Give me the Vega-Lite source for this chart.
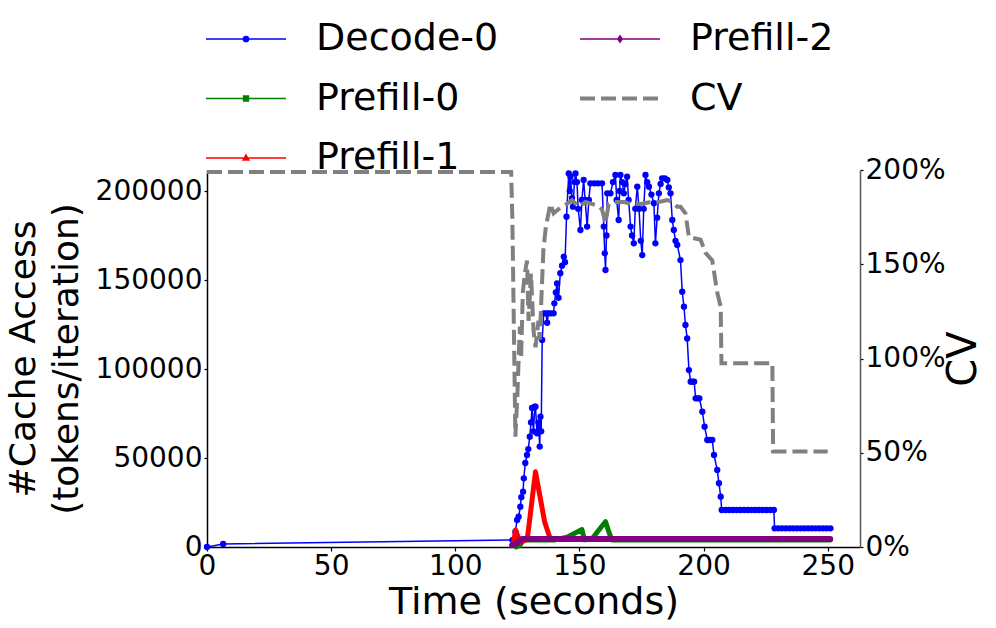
{
  "$schema": "https://vega.github.io/schema/vega-lite/v6.json",
  "width": 653,
  "height": 377,
  "autosize": {"type": "none"},
  "padding": {"left": 207, "top": 170, "right": 136, "bottom": 81},
  "config": {
    "font": "DejaVu Sans",
    "view": {"stroke": null},
    "axis": {"grid": false, "domainColor": "black", "tickColor": "black", "labelColor": "black", "titleColor": "black", "labelFont": "DejaVu Sans", "titleFont": "DejaVu Sans", "labelFontSize": 28, "titleFontWeight": "normal", "domainWidth": 1.5, "tickWidth": 1.2}
  },
  "datasets": {
    "main": [
      {"series": "Decode-0", "t": 0, "v": 0},
      {"series": "Decode-0", "t": 6.5, "v": 1700},
      {"series": "Decode-0", "t": 123, "v": 3900},
      {"series": "Decode-0", "t": 124.2, "v": 8600},
      {"series": "Decode-0", "t": 124.9, "v": 15200},
      {"series": "Decode-0", "t": 125.5, "v": 17000},
      {"series": "Decode-0", "t": 126.2, "v": 22600},
      {"series": "Decode-0", "t": 126.6, "v": 28000},
      {"series": "Decode-0", "t": 127.3, "v": 31100},
      {"series": "Decode-0", "t": 127.6, "v": 38600},
      {"series": "Decode-0", "t": 128.2, "v": 47200},
      {"series": "Decode-0", "t": 128.9, "v": 51700},
      {"series": "Decode-0", "t": 129.4, "v": 55000},
      {"series": "Decode-0", "t": 130, "v": 62000},
      {"series": "Decode-0", "t": 130.5, "v": 70000},
      {"series": "Decode-0", "t": 130.9, "v": 78100},
      {"series": "Decode-0", "t": 131.5, "v": 65000},
      {"series": "Decode-0", "t": 132, "v": 78800},
      {"series": "Decode-0", "t": 132.3, "v": 78800},
      {"series": "Decode-0", "t": 132.9, "v": 63900},
      {"series": "Decode-0", "t": 133.5, "v": 70000},
      {"series": "Decode-0", "t": 134, "v": 56400},
      {"series": "Decode-0", "t": 134.3, "v": 73200},
      {"series": "Decode-0", "t": 134.6, "v": 65000},
      {"series": "Decode-0", "t": 135, "v": 116300},
      {"series": "Decode-0", "t": 135.6, "v": 131300},
      {"series": "Decode-0", "t": 136.5, "v": 131300},
      {"series": "Decode-0", "t": 137, "v": 126000},
      {"series": "Decode-0", "t": 137.5, "v": 131300},
      {"series": "Decode-0", "t": 138.5, "v": 131300},
      {"series": "Decode-0", "t": 139.6, "v": 131300},
      {"series": "Decode-0", "t": 139.9, "v": 136900},
      {"series": "Decode-0", "t": 140.5, "v": 143000},
      {"series": "Decode-0", "t": 141, "v": 148100},
      {"series": "Decode-0", "t": 141.6, "v": 140000},
      {"series": "Decode-0", "t": 142.3, "v": 153800},
      {"series": "Decode-0", "t": 143, "v": 158000},
      {"series": "Decode-0", "t": 143.7, "v": 163100},
      {"series": "Decode-0", "t": 144.2, "v": 160000},
      {"series": "Decode-0", "t": 144.8, "v": 185600},
      {"series": "Decode-0", "t": 145.7, "v": 209900},
      {"series": "Decode-0", "t": 146.1, "v": 200000},
      {"series": "Decode-0", "t": 146.4, "v": 208000},
      {"series": "Decode-0", "t": 147, "v": 196000},
      {"series": "Decode-0", "t": 147.4, "v": 191200},
      {"series": "Decode-0", "t": 148, "v": 205000},
      {"series": "Decode-0", "t": 148.4, "v": 209900},
      {"series": "Decode-0", "t": 149, "v": 205000},
      {"series": "Decode-0", "t": 149.5, "v": 190000},
      {"series": "Decode-0", "t": 150.4, "v": 178100},
      {"series": "Decode-0", "t": 151, "v": 195000},
      {"series": "Decode-0", "t": 151.7, "v": 206200},
      {"series": "Decode-0", "t": 152.3, "v": 195000},
      {"series": "Decode-0", "t": 153.1, "v": 180000},
      {"series": "Decode-0", "t": 153.8, "v": 195000},
      {"series": "Decode-0", "t": 154.4, "v": 204300},
      {"series": "Decode-0", "t": 156, "v": 204300},
      {"series": "Decode-0", "t": 157.5, "v": 204300},
      {"series": "Decode-0", "t": 159.1, "v": 204300},
      {"series": "Decode-0", "t": 159.8, "v": 180000},
      {"series": "Decode-0", "t": 160.2, "v": 165000},
      {"series": "Decode-0", "t": 160.5, "v": 155600},
      {"series": "Decode-0", "t": 160.9, "v": 175000},
      {"series": "Decode-0", "t": 161.2, "v": 198700},
      {"series": "Decode-0", "t": 162.5, "v": 198700},
      {"series": "Decode-0", "t": 163.5, "v": 205000},
      {"series": "Decode-0", "t": 164.5, "v": 209000},
      {"series": "Decode-0", "t": 165, "v": 195000},
      {"series": "Decode-0", "t": 165.8, "v": 183700},
      {"series": "Decode-0", "t": 166.2, "v": 200000},
      {"series": "Decode-0", "t": 166.5, "v": 209000},
      {"series": "Decode-0", "t": 167.2, "v": 205000},
      {"series": "Decode-0", "t": 167.9, "v": 198700},
      {"series": "Decode-0", "t": 168.5, "v": 204000},
      {"series": "Decode-0", "t": 169.2, "v": 208000},
      {"series": "Decode-0", "t": 169.8, "v": 195000},
      {"series": "Decode-0", "t": 170.6, "v": 180000},
      {"series": "Decode-0", "t": 171.2, "v": 175000},
      {"series": "Decode-0", "t": 171.9, "v": 170600},
      {"series": "Decode-0", "t": 172.5, "v": 190000},
      {"series": "Decode-0", "t": 173.3, "v": 202400},
      {"series": "Decode-0", "t": 174, "v": 190000},
      {"series": "Decode-0", "t": 174.7, "v": 172000},
      {"series": "Decode-0", "t": 175.3, "v": 164000},
      {"series": "Decode-0", "t": 175.9, "v": 190000},
      {"series": "Decode-0", "t": 176.6, "v": 209000},
      {"series": "Decode-0", "t": 177.3, "v": 205000},
      {"series": "Decode-0", "t": 178, "v": 202400},
      {"series": "Decode-0", "t": 179, "v": 198000},
      {"series": "Decode-0", "t": 180, "v": 193100},
      {"series": "Decode-0", "t": 180.6, "v": 170600},
      {"series": "Decode-0", "t": 181.3, "v": 185000},
      {"series": "Decode-0", "t": 182, "v": 198700},
      {"series": "Decode-0", "t": 182.7, "v": 204000},
      {"series": "Decode-0", "t": 183.3, "v": 207100},
      {"series": "Decode-0", "t": 184.4, "v": 207100},
      {"series": "Decode-0", "t": 185.4, "v": 206200},
      {"series": "Decode-0", "t": 186, "v": 202000},
      {"series": "Decode-0", "t": 186.7, "v": 198700},
      {"series": "Decode-0", "t": 187.4, "v": 183700},
      {"series": "Decode-0", "t": 188, "v": 178100},
      {"series": "Decode-0", "t": 188.7, "v": 172000},
      {"series": "Decode-0", "t": 189.4, "v": 169700},
      {"series": "Decode-0", "t": 190.7, "v": 161200},
      {"series": "Decode-0", "t": 191.4, "v": 143400},
      {"series": "Decode-0", "t": 192.1, "v": 135000},
      {"series": "Decode-0", "t": 192.7, "v": 124700},
      {"series": "Decode-0", "t": 193.4, "v": 117200},
      {"series": "Decode-0", "t": 194.1, "v": 99400},
      {"series": "Decode-0", "t": 194.8, "v": 92900},
      {"series": "Decode-0", "t": 195.6, "v": 92900},
      {"series": "Decode-0", "t": 196.2, "v": 92900},
      {"series": "Decode-0", "t": 196.8, "v": 83500},
      {"series": "Decode-0", "t": 197.6, "v": 83500},
      {"series": "Decode-0", "t": 198.3, "v": 83500},
      {"series": "Decode-0", "t": 199.5, "v": 76000},
      {"series": "Decode-0", "t": 200.4, "v": 67600},
      {"series": "Decode-0", "t": 201.5, "v": 60100},
      {"series": "Decode-0", "t": 202.5, "v": 60100},
      {"series": "Decode-0", "t": 203.5, "v": 60100},
      {"series": "Decode-0", "t": 204.2, "v": 51700},
      {"series": "Decode-0", "t": 205.5, "v": 43300},
      {"series": "Decode-0", "t": 206.2, "v": 35800},
      {"series": "Decode-0", "t": 206.9, "v": 28300},
      {"series": "Decode-0", "t": 207.3, "v": 20800},
      {"series": "Decode-0", "t": 208.8, "v": 20800},
      {"series": "Decode-0", "t": 210.3, "v": 20800},
      {"series": "Decode-0", "t": 211.8, "v": 20800},
      {"series": "Decode-0", "t": 213.3, "v": 20800},
      {"series": "Decode-0", "t": 214.8, "v": 20800},
      {"series": "Decode-0", "t": 216.3, "v": 20800},
      {"series": "Decode-0", "t": 217.8, "v": 20800},
      {"series": "Decode-0", "t": 219.3, "v": 20800},
      {"series": "Decode-0", "t": 220.8, "v": 20800},
      {"series": "Decode-0", "t": 222.3, "v": 20800},
      {"series": "Decode-0", "t": 223.8, "v": 20800},
      {"series": "Decode-0", "t": 225.3, "v": 20800},
      {"series": "Decode-0", "t": 226.8, "v": 20800},
      {"series": "Decode-0", "t": 228.3, "v": 20800},
      {"series": "Decode-0", "t": 228.6, "v": 10500},
      {"series": "Decode-0", "t": 230.1, "v": 10500},
      {"series": "Decode-0", "t": 231.6, "v": 10500},
      {"series": "Decode-0", "t": 233.1, "v": 10500},
      {"series": "Decode-0", "t": 234.6, "v": 10500},
      {"series": "Decode-0", "t": 236.1, "v": 10500},
      {"series": "Decode-0", "t": 237.6, "v": 10500},
      {"series": "Decode-0", "t": 239.1, "v": 10500},
      {"series": "Decode-0", "t": 240.6, "v": 10500},
      {"series": "Decode-0", "t": 242.1, "v": 10500},
      {"series": "Decode-0", "t": 243.6, "v": 10500},
      {"series": "Decode-0", "t": 245.1, "v": 10500},
      {"series": "Decode-0", "t": 246.6, "v": 10500},
      {"series": "Decode-0", "t": 248.1, "v": 10500},
      {"series": "Decode-0", "t": 249.6, "v": 10500},
      {"series": "Decode-0", "t": 251.1, "v": 10500},

      {"series": "Prefill-0", "t": 124.5, "v": 0},
      {"series": "Prefill-0", "t": 126, "v": 1000},
      {"series": "Prefill-0", "t": 127.5, "v": 4000},
      {"series": "Prefill-0", "t": 140, "v": 4000},
      {"series": "Prefill-0", "t": 145, "v": 5500},
      {"series": "Prefill-0", "t": 151, "v": 9800},
      {"series": "Prefill-0", "t": 152, "v": 4000},
      {"series": "Prefill-0", "t": 155, "v": 4500},
      {"series": "Prefill-0", "t": 159.1, "v": 11800},
      {"series": "Prefill-0", "t": 160.5, "v": 14200},
      {"series": "Prefill-0", "t": 161.5, "v": 10000},
      {"series": "Prefill-0", "t": 163, "v": 4000},
      {"series": "Prefill-0", "t": 251, "v": 4000},

      {"series": "Prefill-1", "t": 123.3, "v": 1000},
      {"series": "Prefill-1", "t": 124.3, "v": 9500},
      {"series": "Prefill-1", "t": 125.2, "v": 6000},
      {"series": "Prefill-1", "t": 126, "v": 2500},
      {"series": "Prefill-1", "t": 129, "v": 4400},
      {"series": "Prefill-1", "t": 132.3, "v": 42300},
      {"series": "Prefill-1", "t": 136, "v": 14000},
      {"series": "Prefill-1", "t": 138.3, "v": 4400},
      {"series": "Prefill-1", "t": 251, "v": 4400},

      {"series": "Prefill-2", "t": 122.9, "v": 1000},
      {"series": "Prefill-2", "t": 124.5, "v": 2000},
      {"series": "Prefill-2", "t": 126.9, "v": 4500},
      {"series": "Prefill-2", "t": 251, "v": 4500},

      {"series": "CV", "t": 0, "v": 1.99},
      {"series": "CV", "t": 122.5, "v": 1.99},
      {"series": "CV", "t": 123, "v": 1.73},
      {"series": "CV", "t": 124.2, "v": 0.585},
      {"series": "CV", "t": 125, "v": 0.8},
      {"series": "CV", "t": 125.5, "v": 0.99},
      {"series": "CV", "t": 126, "v": 1.17},
      {"series": "CV", "t": 126.5, "v": 1.0},
      {"series": "CV", "t": 127.2, "v": 1.35},
      {"series": "CV", "t": 128, "v": 1.45},
      {"series": "CV", "t": 128.9, "v": 1.52},
      {"series": "CV", "t": 129.5, "v": 1.2},
      {"series": "CV", "t": 130.5, "v": 1.45},
      {"series": "CV", "t": 131.5, "v": 1.15},
      {"series": "CV", "t": 132.3, "v": 1.06},
      {"series": "CV", "t": 133.5, "v": 1.2},
      {"series": "CV", "t": 134, "v": 1.1},
      {"series": "CV", "t": 135.5, "v": 1.58},
      {"series": "CV", "t": 136.5, "v": 1.7},
      {"series": "CV", "t": 138.3, "v": 1.82},
      {"series": "CV", "t": 139.6, "v": 1.77},
      {"series": "CV", "t": 142.3, "v": 1.8},
      {"series": "CV", "t": 145, "v": 1.82},
      {"series": "CV", "t": 147, "v": 1.84},
      {"series": "CV", "t": 149.7, "v": 1.805},
      {"series": "CV", "t": 152.4, "v": 1.83},
      {"series": "CV", "t": 155, "v": 1.82},
      {"series": "CV", "t": 157.5, "v": 1.81},
      {"series": "CV", "t": 159.1, "v": 1.79},
      {"series": "CV", "t": 160.5, "v": 1.72},
      {"series": "CV", "t": 161.8, "v": 1.82},
      {"series": "CV", "t": 164, "v": 1.83},
      {"series": "CV", "t": 167.9, "v": 1.83},
      {"series": "CV", "t": 171, "v": 1.82},
      {"series": "CV", "t": 174.6, "v": 1.82},
      {"series": "CV", "t": 178.6, "v": 1.83},
      {"series": "CV", "t": 182, "v": 1.83},
      {"series": "CV", "t": 185.4, "v": 1.84},
      {"series": "CV", "t": 187.5, "v": 1.83},
      {"series": "CV", "t": 189.4, "v": 1.805},
      {"series": "CV", "t": 190.7, "v": 1.805},
      {"series": "CV", "t": 192.7, "v": 1.77},
      {"series": "CV", "t": 194.1, "v": 1.645},
      {"series": "CV", "t": 198.8, "v": 1.63},
      {"series": "CV", "t": 200.8, "v": 1.56},
      {"series": "CV", "t": 203.5, "v": 1.52},
      {"series": "CV", "t": 205.5, "v": 1.35},
      {"series": "CV", "t": 206.9, "v": 1.275},
      {"series": "CV", "t": 207.2, "v": 0.975},
      {"series": "CV", "t": 227.7, "v": 0.975},
      {"series": "CV", "t": 228, "v": 0.506},
      {"series": "CV", "t": 250, "v": 0.506}
    ]
  },
  "data": {"name": "main"},
  "encoding": {
    "x": {
      "field": "t", "type": "quantitative",
      "scale": {"domain": [0, 263], "nice": false, "zero": false},
      "axis": {"values": [0, 50, 100, 150, 200, 250], "title": "Time (seconds)", "titleFontSize": 38, "tickSize": 4, "labelPadding": 1, "titlePadding": 3, "labelFlush": false}
    },
    "color": {
      "field": "series", "type": "nominal",
      "scale": {"domain": ["Decode-0", "Prefill-0", "Prefill-1", "Prefill-2", "CV"], "range": ["#0000ff", "#008000", "#ff0000", "#800080", "#808080"]},
      "legend": {
        "orient": "none", "legendX": 20, "legendY": -150, "columns": 2, "title": null, "padding": 0,
        "symbolSize": 1600, "symbolStrokeWidth": 1.5, "labelOffset": 51, "columnPadding": 73, "rowPadding": 21.5,
        "labelFont": "DejaVu Sans", "labelFontSize": 38, "labelLimit": 500, "labelColor": "black",
        "encode": {
          "symbols": {
            "update": {
              "shape": {"signal": "datum.value === 'CV' ? 'M-2,0H2' : datum.value === 'Decode-0' ? 'M-2,0H2M0.13,0A0.13,0.13,0,1,1,-0.13,0A0.13,0.13,0,1,1,0.13,0Z' : datum.value === 'Prefill-0' ? 'M-2,0H2M-0.12,-0.12H0.12V0.12H-0.12Z' : datum.value === 'Prefill-1' ? 'M-2,0H2M0,-0.15L0.14,0.1H-0.14Z' : 'M-2,0H2M0,-0.16L0.11,0L0,0.16L-0.11,0Z'"},
              "strokeDash": {"signal": "datum.value === 'CV' ? [15, 6] : []"},
              "strokeWidth": {"signal": "datum.value === 'CV' ? 4 : 1.5"},
              "fill": {"signal": "scale('color', datum.value)"},
              "stroke": {"signal": "scale('color', datum.value)"},
              "opacity": {"value": 1}
            }
          }
        }
      }
    }
  },
  "layer": [
    {
      "encoding": {
        "y": {
          "field": "v", "type": "quantitative",
          "scale": {"domain": [0, 211800], "nice": false},
          "axis": {"values": [0, 50000, 100000, 150000, 200000], "format": "d", "title": ["#Cache Access", "(tokens/iteration)"], "titleFontSize": 36, "titleLineHeight": 43, "tickSize": 3, "labelPadding": 2, "titlePadding": 10}
        }
      },
      "layer": [
        {"transform": [{"filter": "datum.series === 'Decode-0'"}], "mark": {"type": "line", "strokeWidth": 1.5, "point": {"filled": true, "size": 40}}},
        {"transform": [{"filter": "datum.series === 'Prefill-0'"}], "mark": {"type": "line", "strokeWidth": 5, "strokeCap": "round", "strokeJoin": "round"}},
        {"transform": [{"filter": "datum.series === 'Prefill-1'"}], "mark": {"type": "line", "strokeWidth": 5, "strokeCap": "round", "strokeJoin": "round"}},
        {"transform": [{"filter": "datum.series === 'Prefill-2'"}], "mark": {"type": "line", "strokeWidth": 6, "strokeCap": "round", "strokeJoin": "round"}}
      ]
    },
    {
      "transform": [{"filter": "datum.series === 'CV'"}],
      "mark": {"type": "line", "strokeWidth": 4, "strokeDash": [15, 6]},
      "encoding": {
        "y": {
          "field": "v", "type": "quantitative",
          "scale": {"domain": [0, 2], "nice": false},
          "axis": {"orient": "right", "values": [0, 0.5, 1, 1.5, 2], "format": ".0%", "title": "CV", "titleFontSize": 40, "titleAngle": -90, "tickSize": 3, "labelPadding": 2, "titlePadding": 38, "domainColor": "#555555"}
        }
      }
    }
  ],
  "resolve": {"scale": {"y": "independent"}}
}
